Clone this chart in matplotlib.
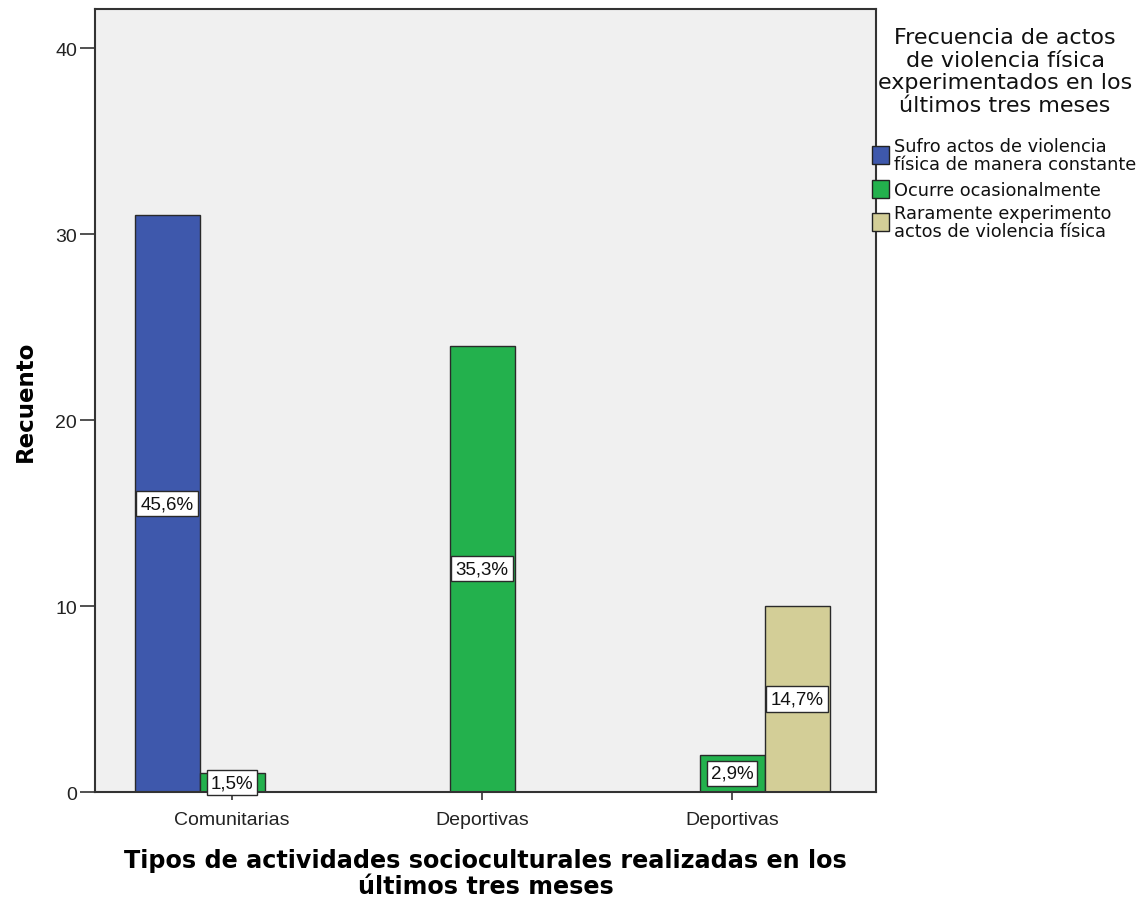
import matplotlib
matplotlib.use("Agg")
import matplotlib.pyplot as plt
from matplotlib.patches import Rectangle
import numpy as np

categories = ["Comunitarias", "Deportivas", "Deportivas"]
series_names = ["Sufro actos de violencia\nfísica de manera constante",
                "Ocurre ocasionalmente",
                "Raramente experimento\nactos de violencia física"]
constante = [31, 0, 0]
ocasional = [1, 24, 2]
raramente = [0, 0, 10]
pct_constante = ["45,6%", None, None]
pct_ocasional = ["1,5%", "35,3%", "2,9%"]
pct_raramente = [None, None, "14,7%"]
legend_title = "Frecuencia de actos\nde violencia física\nexperimentados en los\núltimos tres meses"
xlabel = "Tipos de actividades socioculturales realizadas en los\núltimos tres meses"
ylabel = "Recuento"
yticks = [0, 10, 20, 30, 40]

colors = ["#3E58AC", "#23B14D", "#D3CE97"]
plt.rcParams['font.family'] = ['Liberation Sans', 'DejaVu Sans']

fig = plt.figure(figsize=(11.48, 9.03), dpi=100)
ax = fig.add_axes([95/1148, 1-793/903, 781/1148, 783/903])
ax.set_facecolor("#F0F0F0")

x = np.arange(len(categories))
w = 0.26
series = [constante, ocasional, raramente]
pcts = [pct_constante, pct_ocasional, pct_raramente]
offsets = [-w, 0, w]
for s, (vals, lab, off, col) in enumerate(zip(series, pcts, offsets, colors)):
    for i, v in enumerate(vals):
        if v <= 0:
            continue
        ax.bar(x[i] + off, v, width=w, color=col, edgecolor="#2a2a2a", linewidth=1.0, zorder=2)
        if lab[i]:
            ax.text(x[i] + off, v / 2, lab[i], ha="center", va="center", fontsize=13.5,
                    zorder=3, color="#111111",
                    bbox=dict(boxstyle="square,pad=0.22", fc="white", ec="#2a2a2a", lw=1.0))

ax.set_xlim(-0.548, 2.576)
ax.set_ylim(0, 42.1)
ax.set_yticks(yticks)
ax.set_yticklabels([str(t) for t in yticks], fontsize=14, color="#222222")
ax.set_xticks(x)
ax.set_xticklabels(categories, fontsize=14, color="#222222")
ax.tick_params(axis="y", length=11, width=1.2, color="#333333", pad=2)
ax.tick_params(axis="x", length=6, width=1.2, color="#333333", pad=8)
for sp in ax.spines.values():
    sp.set_color("#333333")
    sp.set_linewidth(1.5)

ax.set_ylabel(ylabel, fontsize=16.5, fontweight="bold", labelpad=13, family="DejaVu Sans")
ax.set_xlabel(xlabel, fontsize=17.2, fontweight="bold", labelpad=14, linespacing=1.1,
              family="DejaVu Sans")

# legend (manual)
fig.text(1005/1148, 1-72/903, legend_title, ha="center", va="center", fontsize=16,
         linespacing=1.15, color="#111111", family="DejaVu Sans")
leg_y = [156.5, 190.5, 223]
for name, col, yy in zip(series_names, colors, leg_y):
    fig.patches.append(Rectangle((872/1148, 1-(yy+8.5)/903), 17/1148, 18/903,
                                 transform=fig.transFigure, fc=col, ec="#222222", lw=1.0))
    fig.text(894/1148, 1-yy/903, name, ha="left", va="center", fontsize=12.8,
             linespacing=1.0, color="#111111", family="DejaVu Sans")

fig.savefig("out.png", dpi=100)
